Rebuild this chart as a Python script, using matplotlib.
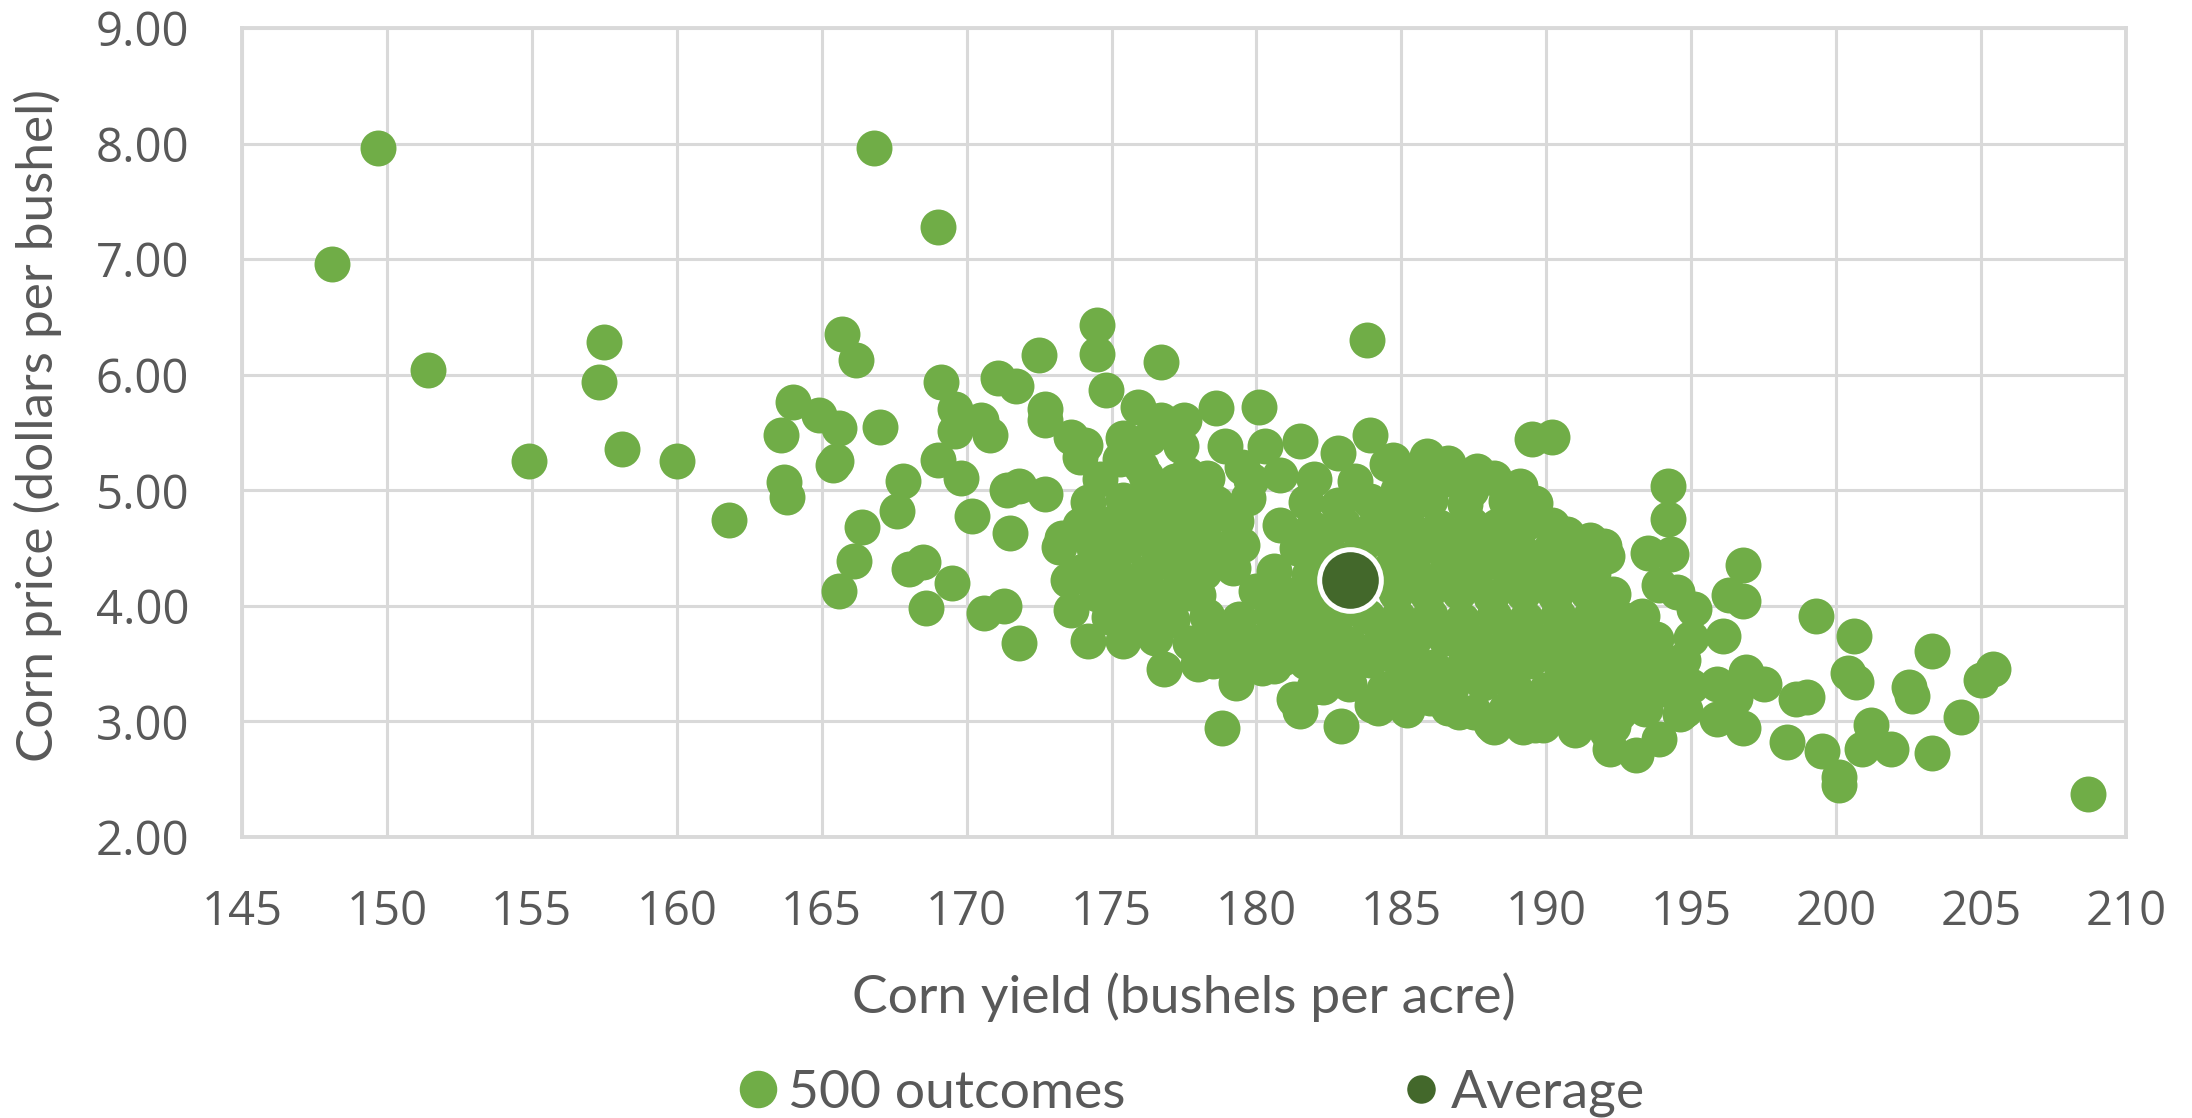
import matplotlib.pyplot as plt
from matplotlib.lines import Line2D

# outcome points (yield, price); outliers and blob edges first
yield_edge = [148.1, 149.7, 151.4, 154.9, 157.3, 157.5, 158.1, 160.0, 161.8, 163.6,
              163.7, 163.8, 164.0, 164.9, 165.4, 165.5, 165.6, 165.7, 165.6, 166.1,
              166.2, 166.4, 166.8, 167.0, 167.6, 167.8, 168.0, 168.5, 168.6, 169.0,
              169.0, 169.1, 169.5, 169.6, 169.6, 169.8, 170.2, 170.5, 170.6, 170.8,
              171.1, 171.3, 171.4, 171.5, 171.7, 171.8, 171.8, 172.5, 172.7, 172.7,
              172.7, 173.2, 173.3, 173.5, 173.6, 173.6, 173.9, 174.1, 174.2, 174.5,
              174.5, 174.8, 175.3, 175.9, 176.0, 176.7, 176.7, 176.8, 177.4, 177.5,
              177.6, 178.5, 178.6, 178.8, 178.9, 179.3, 179.5, 180.1, 180.2, 180.3,
              180.9, 181.3, 181.5, 181.5, 182.3, 182.8, 182.9, 183.8, 183.9, 184.0,
              184.5, 184.7, 185.9, 186.6, 187.6, 189.1, 189.5, 190.2, 184.9, 184.8,
              186.2, 187.4, 190.7, 191.5, 192.0, 192.1, 193.5, 194.2, 194.2, 194.3,
              193.9, 194.5, 196.8, 196.8, 196.3, 195.1, 196.1, 195.0, 194.7, 192.7,
              192.9, 193.5, 196.9, 197.5, 198.3, 198.6, 199.0, 199.3, 199.5, 200.1,
              200.1, 200.4, 200.6, 200.7, 200.9, 201.2, 201.9, 202.5, 202.6, 203.3,
              203.3, 204.3, 205.0, 205.4, 208.7, 195.9, 196.5, 196.8, 195.9, 194.6,
              193.9, 193.1, 192.2, 192.1, 191.8, 189.9, 189.2, 188.1, 187.0, 186.0,
              184.2, 184.8, 175.4, 176.3]
price_edge = [6.96, 7.96, 6.04, 5.25, 5.94, 6.28, 5.36, 5.25, 4.74, 5.48,
              5.07, 4.94, 5.76, 5.65, 5.22, 5.25, 5.54, 6.35, 4.13, 4.39,
              6.13, 4.68, 7.96, 5.55, 4.82, 5.08, 4.32, 4.38, 3.98, 5.26,
              7.28, 5.94, 4.20, 5.70, 5.51, 5.11, 4.78, 5.61, 3.94, 5.48,
              5.97, 4.00, 5.00, 4.63, 5.90, 3.68, 5.04, 6.17, 4.97, 5.70,
              5.61, 4.51, 4.59, 4.22, 3.96, 5.46, 5.29, 5.39, 3.70, 6.43,
              6.18, 5.87, 5.27, 5.72, 5.20, 6.11, 5.61, 3.45, 5.38, 5.61,
              5.14, 3.52, 5.71, 2.94, 5.38, 3.33, 5.20, 5.72, 3.46, 5.38,
              3.55, 3.19, 3.09, 5.43, 3.30, 5.32, 2.96, 6.30, 5.48, 3.14,
              5.23, 5.26, 5.30, 5.24, 5.17, 5.04, 5.44, 5.46, 5.00, 4.79,
              4.65, 5.00, 4.62, 4.57, 4.52, 4.43, 4.46, 5.04, 4.75, 4.45,
              4.18, 4.12, 4.35, 4.04, 4.09, 3.97, 3.74, 3.72, 3.53, 3.88,
              3.67, 3.52, 3.43, 3.32, 2.82, 3.19, 3.21, 3.91, 2.74, 2.52,
              2.45, 3.42, 3.74, 3.34, 2.76, 2.97, 2.76, 3.30, 3.22, 2.73,
              3.61, 3.04, 3.36, 3.45, 2.37, 3.32, 3.20, 2.94, 3.02, 3.06,
              2.85, 2.71, 2.76, 2.91, 3.12, 2.97, 2.95, 2.98, 3.08, 3.20,
              3.12, 3.29, 5.45, 5.45]

# dense centre of the cloud, row by row
yield_core = [174.6, 176.2, 177.2, 178.3, 179.8, 180.8, 182.0, 183.4, 185.5, 186.4, 188.2,
              174.2, 175.4, 176.4, 177.5, 178.6, 179.7, 181.7, 182.8, 183.9, 184.9, 186.0, 187.2, 188.6, 189.6,
              173.9, 175.0, 176.0, 177.1, 178.2, 179.3, 180.8, 181.9, 183.0, 184.1, 185.2, 186.3, 187.4, 188.3, 189.3, 190.2,
              174.4, 175.5, 176.6, 177.7, 178.8, 179.5, 181.4, 182.5, 183.6, 184.7, 185.8, 186.9, 188.0, 189.1, 190.2, 191.0,
              174.0, 175.1, 176.2, 177.3, 178.2, 179.2, 180.6, 181.8, 182.3, 184.5, 185.4, 186.5, 187.6, 188.7, 189.8, 190.8, 191.6,
              174.5, 175.6, 176.7, 177.6, 178.0, 180.0, 181.0, 182.1, 184.8, 185.9, 187.0, 188.1, 189.2, 190.3, 191.4, 192.3,
              174.9, 175.9, 177.1, 178.3, 179.4, 180.5, 181.6, 182.7, 183.8, 184.9, 186.0, 187.1, 188.2, 189.3, 190.4, 191.5, 192.4, 193.3,
              175.4, 176.5, 177.7, 178.8, 179.9, 181.0, 182.1, 183.2, 184.3, 185.4, 186.5, 187.6, 188.7, 189.8, 190.9, 191.9, 193.8,
              178.0, 179.5, 180.6, 181.7, 182.8, 183.9, 185.0, 186.1, 187.2, 188.3, 189.4, 190.5, 191.5, 192.6, 194.3,
              182.0, 183.2, 184.4, 185.6, 186.7, 187.8, 188.9, 190.0, 191.1, 192.2, 193.1, 194.0, 195.0,
              185.2, 186.6, 187.5, 188.6, 189.7, 190.8, 191.5, 192.5, 193.4, 194.8,
              188.2, 189.6, 191.0, 192.3]
price_core = [5.10, 5.12, 5.08, 5.11, 5.09, 5.13, 5.10, 5.08, 5.12, 5.09, 5.11,
              4.90, 4.92, 4.88, 4.91, 4.89, 4.93, 4.90, 4.87, 4.91, 4.90, 4.92, 4.88, 4.91, 4.89,
              4.70, 4.72, 4.68, 4.71, 4.69, 4.73, 4.70, 4.67, 4.71, 4.70, 4.72, 4.68, 4.71, 4.69, 4.72, 4.70,
              4.50, 4.52, 4.48, 4.51, 4.49, 4.53, 4.50, 4.47, 4.51, 4.50, 4.52, 4.48, 4.51, 4.49, 4.52, 4.50,
              4.30, 4.32, 4.28, 4.31, 4.29, 4.33, 4.30, 4.27, 4.45, 4.30, 4.32, 4.28, 4.31, 4.29, 4.32, 4.30, 4.28,
              4.10, 4.12, 4.08, 4.11, 4.09, 4.13, 4.10, 4.07, 4.11, 4.10, 4.12, 4.08, 4.11, 4.09, 4.12, 4.10,
              3.90, 3.92, 3.88, 3.91, 3.89, 3.93, 3.90, 3.87, 3.91, 3.90, 3.92, 3.88, 3.91, 3.89, 3.92, 3.90, 3.88, 3.91,
              3.70, 3.72, 3.68, 3.71, 3.69, 3.73, 3.70, 3.67, 3.71, 3.70, 3.72, 3.68, 3.71, 3.69, 3.72, 3.70, 3.71,
              3.50, 3.52, 3.48, 3.51, 3.49, 3.53, 3.50, 3.47, 3.51, 3.50, 3.52, 3.48, 3.51, 3.49, 3.50,
              3.30, 3.32, 3.28, 3.31, 3.29, 3.33, 3.30, 3.27, 3.31, 3.30, 3.32, 3.28, 3.31,
              3.10, 3.12, 3.08, 3.11, 3.09, 3.13, 3.10, 3.07, 3.11, 3.10,
              2.95, 2.97, 2.93, 2.96]

avg_yield = [183.24]
avg_price = [4.22]

x_ticks = list(range(145, 211, 5))
y_ticks = [2, 3, 4, 5, 6, 7, 8, 9]

green = '#70AD47'
dark_green = '#43682B'
grey_text = '#595959'
grid_grey = '#D9D9D9'

fig = plt.figure(figsize=(21.92, 11.18), dpi=100)
ax = fig.add_axes([242 / 2192, 1 - 837 / 1118, (2126 - 242) / 2192, (837 - 28) / 1118])

ax.scatter(yield_edge + yield_core, price_edge + price_core, s=670, color=green,
           linewidths=0, zorder=3)
ax.scatter(avg_yield, avg_price, s=1970, color=dark_green, edgecolors='white',
           linewidths=3.6, zorder=4)

ax.set_xlim(145, 210)
ax.set_ylim(2, 9)
ax.set_xticks(x_ticks)
ax.set_yticks(y_ticks)
ax.set_yticklabels([f'{v:.2f}' for v in y_ticks])
ax.grid(True, color=grid_grey, linewidth=2.2, zorder=0)
ax.set_axisbelow(True)
for sp in ax.spines.values():
    sp.set_color(grid_grey)
    sp.set_linewidth(2.8)

ax.tick_params(axis='both', length=0, colors=grey_text, labelsize=34)
ax.tick_params(axis='x', pad=37)
ax.tick_params(axis='y', pad=38)
for lab in ax.get_xticklabels() + ax.get_yticklabels():
    lab.set_family('Open Sans')

xl = ax.set_xlabel('Corn yield (bushels per acre)', fontsize=38.5, color=grey_text,
                   family='Lato')
xl.set_verticalalignment('center')
ax.xaxis.set_label_coords(0.5, -0.198)
yl = ax.set_ylabel('Corn price (dollars per bushel)', fontsize=37, color=grey_text,
                   family='Lato')
yl.set_verticalalignment('center')
ax.yaxis.set_label_coords(-0.1085, 0.509)

# legend entries sit apart along the bottom edge, as in the original
h1 = Line2D([], [], marker='o', linestyle='none', markersize=26, color=green)
h2 = Line2D([], [], marker='o', linestyle='none', markersize=19.5, color=dark_green)
for h, name, left in [(h1, '500 outcomes', 731), (h2, 'Average', 1394)]:
    fig.legend([h], [name], loc='center left', bbox_to_anchor=(left / 2192, 1 - 1093 / 1118),
               frameon=False, borderpad=0, borderaxespad=0, handlelength=1.0,
               handletextpad=0.06, prop={'family': 'Lato', 'size': 38.5},
               labelcolor=grey_text)

fig.savefig('out.png', dpi=100)
